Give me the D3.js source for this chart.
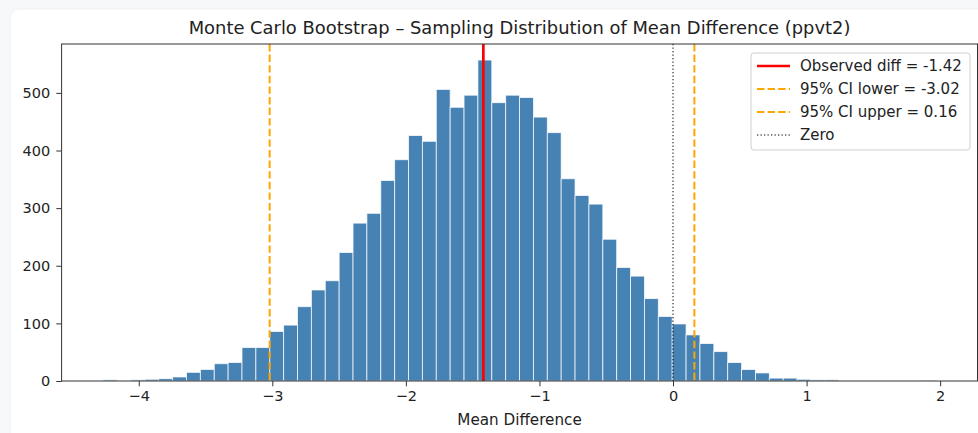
<!DOCTYPE html>
<html>
<head>
<meta charset="utf-8">
<script src="https://cdn.jsdelivr.net/npm/d3@7"></script>
<style>
  html, body { margin: 0; padding: 0; background: #f7f8fa; }
  svg { display: block; }
  text { font-family: "DejaVu Sans", sans-serif; fill: #222; }
</style>
</head>
<body>
<svg id="chart" width="978" height="433"></svg>
<script>
// ---- data ----
const binStart = -4.266;
const binWidth = 0.1039;
const counts = [2, 0, 2, 3, 4, 7, 15, 20, 30, 32,
                58, 58, 86, 97, 129, 158, 174, 223, 274, 291,
                348, 384, 426, 416, 506, 475, 496, 557, 483, 496,
                492, 458, 431, 351, 322, 307, 246, 197, 182, 143,
                112, 99, 80, 65, 51, 32, 20, 14, 5, 5,
                3, 2, 2, 0, 0, 0, 0, 0, 0, 1];
const observed = -1.42;
const ciLower = -3.02;
const ciUpper = 0.16;
const xTicks = [-4, -3, -2, -1, 0, 1, 2];
const yTicks = [0, 100, 200, 300, 400, 500];
const legendLabels = ["Observed diff = -1.42", "95% CI lower = -3.02", "95% CI upper = 0.16", "Zero"];
const titleText = "Monte Carlo Bootstrap \u2013 Sampling Distribution of Mean Difference (ppvt2)";
const xLabel = "Mean Difference";

// ---- layout ----
const svg = d3.select("#chart");
const W = 978, H = 433;
const L = 61.6, R = 977.5, T = 44, B = 381;

// card
svg.append("rect").attr("x", 10).attr("y", 9).attr("width", W + 20).attr("height", H + 20)
  .attr("rx", 9).attr("fill", "#fff").attr("stroke", "#eef0f3");

const bins = counts.map((c, i) => ({x0: binStart + i * binWidth, x1: binStart + (i + 1) * binWidth, c}));
const xMin = binStart, xMax = binStart + counts.length * binWidth;
const pad = (xMax - xMin) * 0.05;
const x = d3.scaleLinear().domain([xMin - pad, xMax + pad]).range([L, R]);
const y = d3.scaleLinear().domain([0, d3.max(counts) * 1.05]).range([B, T]);

svg.append("defs").append("clipPath").attr("id", "clip")
  .append("rect").attr("x", L).attr("y", T).attr("width", R - L).attr("height", B - T);

const g = svg.append("g").attr("clip-path", "url(#clip)");

g.selectAll("rect.bar").data(bins.filter(d => d.c > 0)).join("rect")
  .attr("class", "bar")
  .attr("x", d => x(d.x0))
  .attr("width", d => x(d.x1) - x(d.x0))
  .attr("y", d => y(d.c))
  .attr("height", d => y(0) - y(d.c))
  .attr("fill", "#4682b4")
  .attr("stroke", "#ffffff")
  .attr("stroke-opacity", 0.8)
  .attr("stroke-width", 0.9);

const vlines = [
  {v: observed, color: "red", w: 2.7, dash: null},
  {v: ciLower, color: "orange", w: 2, dash: "7.4,3.2"},
  {v: ciUpper, color: "orange", w: 2, dash: "7.4,3.2"},
  {v: 0, color: "#000", w: 1, dash: "1.3,2.2"}
];
g.selectAll("line.v").data(vlines).join("line")
  .attr("x1", d => x(d.v)).attr("x2", d => x(d.v))
  .attr("y1", T).attr("y2", B)
  .attr("stroke", d => d.color).attr("stroke-width", d => d.w)
  .attr("stroke-dasharray", d => d.dash);

// axes
const axisColor = "#333";
const xAxis = svg.append("g").attr("transform", `translate(0,${B})`)
  .call(d3.axisBottom(x).tickValues(xTicks).tickSize(5.3).tickPadding(4)
    .tickFormat(d => d3.format("d")(d).replace("-", "\u2212")));
const yAxis = svg.append("g").attr("transform", `translate(${L},0)`)
  .call(d3.axisLeft(y).tickValues(yTicks).tickSize(5.3).tickPadding(6));
[xAxis, yAxis].forEach(a => {
  a.select(".domain").remove();
  a.selectAll("line").attr("stroke", axisColor).attr("stroke-width", 1);
  a.selectAll("text").attr("font-size", 14.5).attr("fill", "#222")
    .attr("font-family", "DejaVu Sans, sans-serif");
});

// spines
svg.append("rect").attr("x", L).attr("y", T).attr("width", R - L).attr("height", B - T)
  .attr("fill", "none").attr("stroke", axisColor).attr("stroke-width", 1);

// title & label
svg.append("text").attr("x", (L + R) / 2).attr("y", 34).attr("text-anchor", "middle")
  .attr("font-size", 17.9).text(titleText);
svg.append("text").attr("x", (L + R) / 2).attr("y", 425).attr("text-anchor", "middle")
  .attr("font-size", 15.2).text(xLabel);

// legend
const lg = svg.append("g");
lg.append("rect").attr("x", 751).attr("y", 53).attr("width", 219).attr("height", 97)
  .attr("rx", 3).attr("fill", "#fff").attr("fill-opacity", 0.8)
  .attr("stroke", "#d0d0d0").attr("stroke-width", 1);
legendLabels.forEach((lab, i) => {
  const cy = 66 + i * 23;
  const st = vlines[i];
  lg.append("line").attr("x1", 757).attr("x2", 790).attr("y1", cy).attr("y2", cy)
    .attr("stroke", st.color).attr("stroke-width", st.w)
    .attr("stroke-dasharray", st.dash);
  lg.append("text").attr("x", 800).attr("y", cy + 5.2).attr("font-size", 15).text(lab);
});
</script>
</body>
</html>
